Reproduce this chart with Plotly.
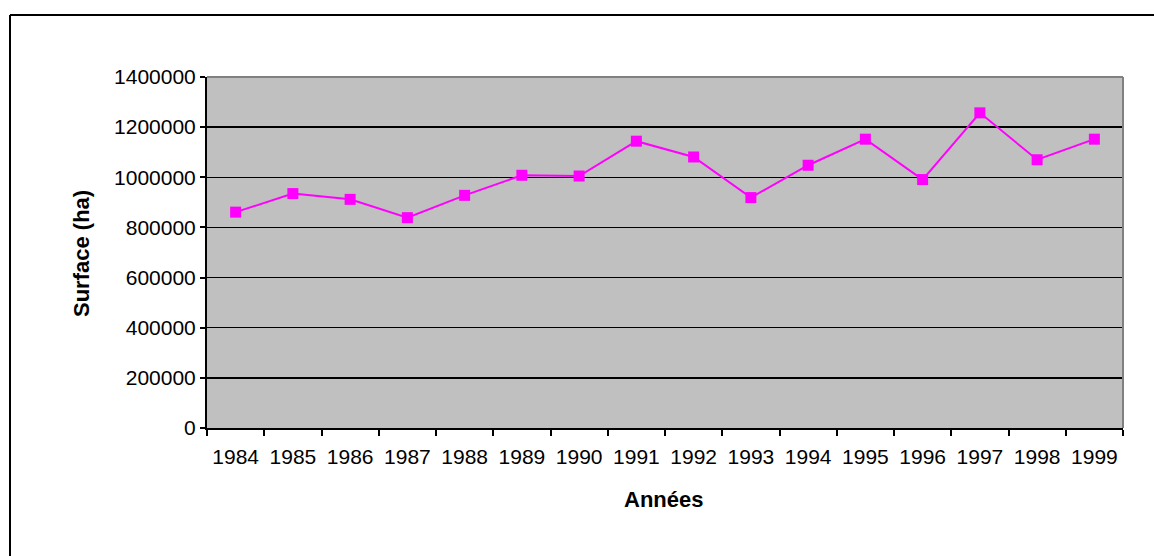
import plotly.graph_objects as go

years = ["1984", "1985", "1986", "1987", "1988", "1989", "1990", "1991",
         "1992", "1993", "1994", "1995", "1996", "1997", "1998", "1999"]
surface = [861000, 935000, 912000, 839000, 928000, 1008000, 1005000, 1144000,
           1081000, 919000, 1048000, 1152000, 991000, 1257000, 1070000, 1152000]
y_ticks = [0, 200000, 400000, 600000, 800000, 1000000, 1200000, 1400000]

FONT = "Arial, Liberation Sans, sans-serif"

W, H = 1154, 556
L, R, T, B = 207, 1123, 77, 428
pw, ph = R - L, B - T


def px(x):
    return (x - L) / pw


def py(y):
    return (B - y) / ph


fig = go.Figure()
fig.add_trace(go.Scatter(
    x=years, y=surface, mode="lines+markers",
    line=dict(color="#FF00FF", width=2),
    marker=dict(symbol="square", size=11, color="#FF00FF"),
    showlegend=False, cliponaxis=False, hoverinfo="skip",
))

fig.update_layout(
    width=W, height=H,
    margin=dict(l=L, r=W - R, t=T, b=H - B, pad=0),
    paper_bgcolor="white",
    plot_bgcolor="#C0C0C0",
    font=dict(family=FONT, size=21, color="black"),
    xaxis=dict(
        type="category", tickson="boundaries",
        showgrid=False, showline=True, linecolor="black", linewidth=2,
        ticks="outside", ticklen=6, tickwidth=2, tickcolor="black",
        ticklabelstandoff=9,
        tickfont=dict(family=FONT, size=21, color="black"),
        range=[-0.5, len(years) - 0.5], fixedrange=True,
    ),
    yaxis=dict(
        range=[0, 1400000], tickvals=y_ticks,
        ticktext=[str(v) for v in y_ticks],
        showgrid=True, gridcolor="black", gridwidth=1.5,
        zeroline=False,
        showline=True, linecolor="black", linewidth=2,
        ticks="outside", ticklen=5, tickwidth=2, tickcolor="black",
        tickfont=dict(family=FONT, size=21, color="black"),
        fixedrange=True,
    ),
    annotations=[
        dict(text="<b>Surface (ha)</b>", x=px(82), y=py(253), xref="paper", yref="paper",
             textangle=-90, showarrow=False, font=dict(family=FONT, size=22, color="black"),
             xanchor="center", yanchor="middle"),
        dict(text="<b>Années</b>", x=px(663), y=py(499), xref="paper", yref="paper",
             showarrow=False, font=dict(family=FONT, size=22, color="black"),
             xanchor="center", yanchor="middle"),
    ],
    shapes=[
        dict(type="line", xref="paper", yref="paper", x0=0, x1=1, y0=1, y1=1,
             line=dict(color="#808080", width=2), layer="above"),
        dict(type="line", xref="paper", yref="paper", x0=1, x1=1, y0=0, y1=1,
             line=dict(color="#808080", width=2), layer="above"),
        dict(type="line", xref="paper", yref="paper", x0=px(10), x1=px(10), y0=py(15), y1=py(560),
             line=dict(color="black", width=2)),
        dict(type="line", xref="paper", yref="paper", x0=px(10), x1=px(1160), y0=py(15), y1=py(15),
             line=dict(color="black", width=2)),
    ],
)

fig.write_html(
    "out.html",
    config={"displayModeBar": False, "staticPlot": True},
    post_script="document.body.style.margin='0';document.body.style.padding='0';"
                "document.body.style.overflow='hidden';",
)
